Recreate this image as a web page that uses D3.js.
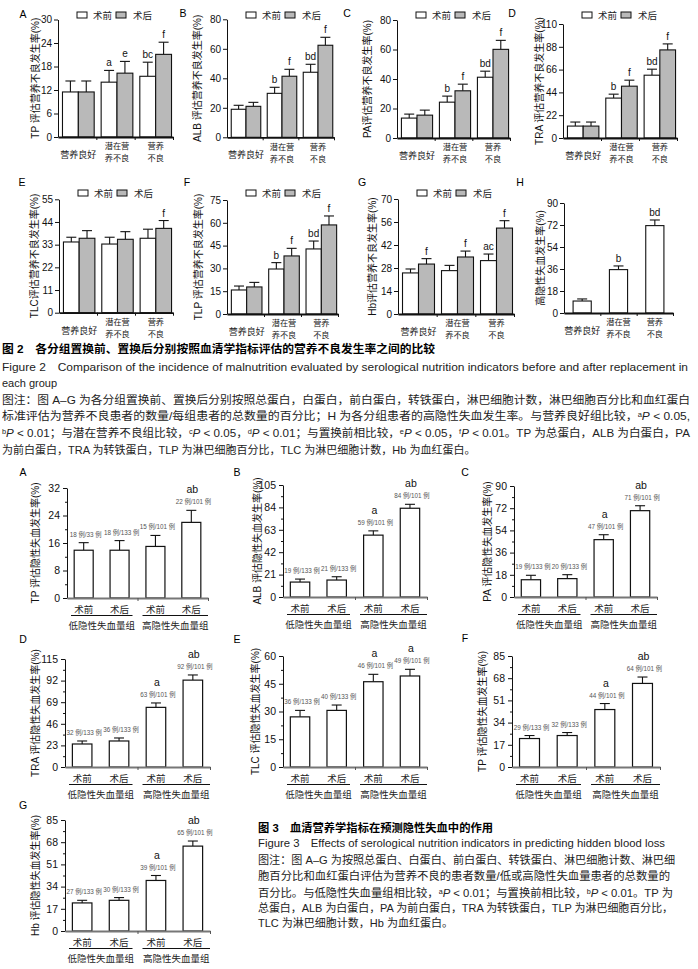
<!DOCTYPE html>
<html><head><meta charset="utf-8">
<script src="https://cdn.jsdelivr.net/npm/d3@7/dist/d3.min.js"></script>
<style>body{margin:0;background:#fff}svg{display:block}</style>
</head><body>
<svg id="c" width="698" height="969"></svg>
<script>
// ================= FIGURE 2 DATA =================
const fig2Groups = [["营养良好"], ["潜在营", "养不良"], ["营养", "不良"]];
const fig2Legend = ["术前", "术后"];

const tpTicks = [0, 6, 12, 18, 24, 30];
const tpPre = [11.5, 14.0, 15.5];
const tpPreErr = [14.3, 17.0, 19.1];
const tpPost = [11.5, 16.3, 21.1];
const tpPostErr = [14.3, 19.3, 24.2];
const tpPreSig = ["", "a", "bc"];
const tpPostSig = ["", "e", "f"];

const albTicks = [0, 20, 40, 60, 80];
const albPre = [19.0, 29.8, 44.1];
const albPreErr = [21.7, 33.9, 49.5];
const albPost = [21.0, 41.4, 62.4];
const albPostErr = [23.7, 46.1, 67.8];
const albPreSig = ["", "b", "bd"];
const albPostSig = ["", "f", "f"];

const paTicks = [0, 20, 40, 60, 80];
const paPre = [13.5, 24.3, 41.2];
const paPreErr = [16.2, 28.4, 45.3];
const paPost = [15.5, 32.0, 60.1];
const paPostErr = [18.9, 36.5, 66.2];
const paPreSig = ["", "b", "bd"];
const paPostSig = ["", "f", "f"];

const traTicks = [0, 22, 44, 66, 88, 110];
const traPre = [11.5, 38.5, 60.6];
const traPreErr = [15.4, 42.3, 66.4];
const traPost = [11.5, 50.0, 85.0];
const traPostErr = [15.4, 55.8, 90.8];
const traPreSig = ["", "b", "bd"];
const traPostSig = ["", "f", "f"];

const tlcTicks = [0, 11, 22, 33, 44, 55];
const tlcPre = [34.3, 33.3, 36.1];
const tlcPreErr = [36.6, 36.6, 40.5];
const tlcPost = [36.1, 35.6, 40.9];
const tlcPostErr = [39.8, 39.3, 44.7];
const tlcPreSig = ["", "", ""];
const tlcPostSig = ["", "", "f"];

const tlpTicks = [0, 15, 30, 45, 60, 75];
const tlpPre = [15.8, 29.6, 42.8];
const tlpPreErr = [18.4, 33.8, 48.0];
const tlpPost = [17.8, 38.2, 58.6];
const tlpPostErr = [20.8, 43.2, 64.5];
const tlpPreSig = ["", "b", "bd"];
const tlpPostSig = ["", "f", "f"];

const hbTicks = [0, 14, 28, 42, 56, 70];
const hbPre = [25.0, 26.4, 32.5];
const hbPreErr = [27.4, 29.6, 36.5];
const hbPost = [30.4, 34.7, 52.3];
const hbPostErr = [33.7, 38.3, 56.8];
const hbPreSig = ["", "", "ac"];
const hbPostSig = ["f", "f", "f"];

const hblTicks = [0, 18, 36, 54, 72, 90];
const hblRate = [9.8, 35.5, 71.5];
const hblRateErr = [11.5, 38.5, 76.1];
const hblSig = ["", "b", "bd"];

// ================= FIGURE 3 DATA =================
const fig3Bars = ["术前", "术后", "术前", "术后"];
const fig3Groups = ["低隐性失血量组", "高隐性失血量组"];

const f3tpTicks = [0, 8, 16, 24, 32];
const f3tpRate = [13.9, 13.9, 15.0, 22.0];
const f3tpErr = [16.1, 16.7, 18.2, 25.5];
const f3tpCount = ["18 例/33 例", "18 例/133 例", "15 例/101 例", "22 例/101 例"];
const f3tpSig = ["", "", "", "ab"];

const f3albTicks = [0, 21, 42, 63, 84, 105];
const f3albRate = [14.0, 15.9, 58.0, 83.2];
const f3albErr = [16.8, 19.0, 62.0, 86.9];
const f3albCount = ["19 例/133 例", "21 例/133 例", "59 例/101 例", "84 例/101 例"];
const f3albSig = ["", "", "a", "ab"];

const f3paTicks = [0, 18, 36, 54, 72, 90];
const f3paRate = [14.0, 14.9, 46.5, 70.0];
const f3paErr = [17.6, 18.1, 50.5, 74.0];
const f3paCount = ["19 例/133 例", "20 例/133 例", "47 例/101 例", "71 例/101 例"];
const f3paSig = ["", "", "a", "ab"];

const f3traTicks = [0, 23, 46, 69, 92, 115];
const f3traRate = [24.5, 27.7, 63.5, 92.5];
const f3traErr = [27.7, 30.9, 68.2, 98.0];
const f3traCount = ["32 例/133 例", "36 例/133 例", "63 例/101 例", "92 例/101 例"];
const f3traSig = ["", "", "a", "ab"];

const f3tlcTicks = [0, 15, 30, 45, 60];
const f3tlcRate = [27.1, 30.6, 46.1, 49.2];
const f3tlcErr = [30.6, 33.5, 50.1, 52.8];
const f3tlcCount = ["36 例/133 例", "40 例/133 例", "46 例/101 例", "49 例/101 例"];
const f3tlcSig = ["", "", "a", "a"];

const f3tlpTicks = [0, 17, 34, 51, 68, 85];
const f3tlpRate = [21.8, 24.1, 44.0, 64.0];
const f3tlpErr = [24.1, 26.4, 48.6, 68.9];
const f3tlpCount = ["29 例/133 例", "32 例/133 例", "44 例/101 例", "64 例/101 例"];
const f3tlpSig = ["", "", "a", "ab"];

const f3hbTicks = [0, 17, 34, 51, 68, 85];
const f3hbRate = [21.5, 23.5, 38.7, 65.0];
const f3hbErr = [23.5, 25.6, 42.5, 68.9];
const f3hbCount = ["27 例/133 例", "30 例/133 例", "39 例/101 例", "65 例/101 例"];
const f3hbSig = ["", "", "a", "ab"];

// ================= LAYOUT / STYLE =================
const LAT = "'Liberation Sans', Arial, 'Noto Sans CJK SC', sans-serif";
const CJK = "'Noto Sans CJK SC', sans-serif";
const GRAY = "#b9b9b9";
const svg = d3.select("#c");

const fig2Panels = [
  {L:"A", lx:23, ly:14, x0:58, x1:173, y0:19.5, y1:137, tx:35, legY:15, title:"TP 评估营养不良发生率(%)", ticks:tpTicks, pre:tpPre, preE:tpPreErr, post:tpPost, postE:tpPostErr, preS:tpPreSig, postS:tpPostSig},
  {L:"B", lx:183, ly:13, x0:227, x1:334, y0:19.3, y1:137.3, tx:197, legY:15, title:"ALB 评估营养不良发生率(%)", ticks:albTicks, pre:albPre, preE:albPreErr, post:albPost, postE:albPostErr, preS:albPreSig, postS:albPostSig},
  {L:"C", lx:347, ly:13, x0:397, x1:510, y0:20, y1:138, tx:367, legY:15, title:"PA评估营养不良发生率(%)", ticks:paTicks, pre:paPre, preE:paPreErr, post:paPost, postE:paPostErr, preS:paPreSig, postS:paPostSig},
  {L:"D", lx:512, ly:13, x0:563, x1:677, y0:24, y1:138, tx:539, legY:15, title:"TRA 评估营养不良发生率(%)", ticks:traTicks, pre:traPre, preE:traPreErr, post:traPost, postE:traPostErr, preS:traPreSig, postS:traPostSig},
  {L:"E", lx:22, ly:182, x0:59, x1:173, y0:199.3, y1:312.7, tx:34, legY:193, title:"TLC评估营养不良发生率(%)", ticks:tlcTicks, pre:tlcPre, preE:tlcPreErr, post:tlcPost, postE:tlcPostErr, preS:tlcPreSig, postS:tlcPostSig},
  {L:"F", lx:187, ly:182, x0:227, x1:338, y0:200, y1:314, tx:198, legY:193, title:"TLP 评估营养不良发生率(%)", ticks:tlpTicks, pre:tlpPre, preE:tlpPreErr, post:tlpPost, postE:tlpPostErr, preS:tlpPreSig, postS:tlpPostSig},
  {L:"G", lx:362, ly:182, x0:398, x1:514, y0:199, y1:314, tx:372, legY:193, title:"Hb评估营养不良发生率(%)", ticks:hbTicks, pre:hbPre, preE:hbPreErr, post:hbPost, postE:hbPostErr, preS:hbPreSig, postS:hbPostSig},
  {L:"H", lx:520, ly:182, x0:564, x1:673, y0:203, y1:313, tx:540, legY:null, title:"高隐性失血发生率(%)", ticks:hblTicks, pre:hblRate, preE:hblRateErr, post:null, preS:hblSig}
];

function panelLetter(t, x, y) {
  svg.append("text").attr("x", x).attr("y", y + 4).attr("text-anchor", "middle")
    .attr("font-family", LAT).attr("font-size", 10.5).text(t);
}
function yTitle(t, x, yc, fs) {
  svg.append("text").attr("transform", `translate(${x},${yc}) rotate(-90)`)
    .attr("text-anchor", "middle").attr("dominant-baseline", "central")
    .attr("font-family", LAT).attr("font-size", fs).attr("fill", "#111").text(t);
}
function styleAxis(g, fs) {
  g.selectAll("text").attr("font-family", LAT).attr("font-size", fs).attr("fill", "#111");
  g.selectAll("line").attr("stroke", "#111");
  g.select(".domain").attr("stroke", "#111");
}

function drawFig2(p) {
  const g = svg.append("g");
  const yMax = p.ticks[p.ticks.length - 1];
  const y = d3.scaleLinear().domain([0, yMax]).range([p.y1, p.y0]);
  const two = !!p.post;
  const x = d3.scaleBand().domain([0, 1, 2])
    .range(two ? [p.x0 + 1, p.x1 + 2] : [p.x0, p.x1])
    .paddingInner(two ? 0.18 : 0.5).paddingOuter(two ? 0.09 : 0.25);
  const series = two ? ["pre", "post"] : ["pre"];
  const xs = d3.scaleBand().domain(series).range([0, x.bandwidth()]);
  const rows = [];
  [0, 1, 2].forEach(i => {
    rows.push({g: i, s: "pre", v: p.pre[i], e: p.preE[i], sig: p.preS[i]});
    if (two) rows.push({g: i, s: "post", v: p.post[i], e: p.postE[i], sig: p.postS[i]});
  });
  const cx = d => x(d.g) + xs(d.s) + xs.bandwidth() / 2;
  g.selectAll(".eb").data(rows).join("line")
    .attr("x1", cx).attr("x2", cx).attr("y1", d => y(d.v)).attr("y2", d => y(d.e))
    .attr("stroke", "#111").attr("stroke-width", 1.1);
  g.selectAll(".cap").data(rows).join("line")
    .attr("x1", d => cx(d) - 5).attr("x2", d => cx(d) + 5).attr("y1", d => y(d.e)).attr("y2", d => y(d.e))
    .attr("stroke", "#111").attr("stroke-width", 1.1);
  g.selectAll(".bar").data(rows).join("rect")
    .attr("x", d => x(d.g) + xs(d.s)).attr("width", xs.bandwidth())
    .attr("y", d => y(d.v)).attr("height", d => y(0) - y(d.v))
    .attr("fill", d => d.s === "pre" ? "#fff" : GRAY)
    .attr("stroke", "#111").attr("stroke-width", 1.1);
  g.selectAll(".sig").data(rows.filter(d => d.sig)).join("text")
    .attr("x", cx).attr("y", d => y(d.e) - 4).attr("text-anchor", "middle")
    .attr("font-family", LAT).attr("font-size", 10).attr("fill", "#111").text(d => d.sig);
  const ya = g.append("g").attr("transform", `translate(${p.x0},0)`)
    .call(d3.axisLeft(y).tickValues(p.ticks).tickSize(4).tickSizeOuter(0).tickPadding(2));
  styleAxis(ya, 10);
  const xt = d3.scaleLinear().domain([0, 3]).range([p.x0, p.x1]);
  const xa = g.append("g").attr("transform", `translate(0,${p.y1})`)
    .call(d3.axisBottom(xt).tickValues([1, 2, 3]).tickSize(3).tickSizeOuter(0).tickFormat(""));
  styleAxis(xa, 10);
  xa.select(".domain").attr("stroke-width", 1.8);
  fig2Groups.forEach((lines, i) => {
    const xc = x(i) + x.bandwidth() / 2;
    lines.forEach((s, k) => {
      const single = lines.length === 1;
      const yy = single ? p.y1 + 21 : p.y1 + 12.3 + k * 12;
      g.append("text").attr("x", xc).attr("y", yy).attr("text-anchor", "middle")
        .attr("font-family", CJK).attr("font-size", single ? 9 : 8.2).attr("fill", "#222").text(s);
    });
  });
  if (p.legY !== null) {
    const lg = g.append("g");
    lg.append("rect").attr("x", p.x0 + 19).attr("y", p.legY - 3).attr("width", 10).attr("height", 6)
      .attr("fill", "#fff").attr("stroke", "#111").attr("stroke-width", 1);
    lg.append("text").attr("x", p.x0 + 35).attr("y", p.legY + 3.5).attr("font-family", CJK)
      .attr("font-size", 9.5).attr("fill", "#222").text(fig2Legend[0]);
    lg.append("rect").attr("x", p.x0 + 58).attr("y", p.legY - 3).attr("width", 10).attr("height", 6)
      .attr("fill", GRAY).attr("stroke", "#111").attr("stroke-width", 1);
    lg.append("text").attr("x", p.x0 + 75).attr("y", p.legY + 3.5).attr("font-family", CJK)
      .attr("font-size", 9.5).attr("fill", "#222").text(fig2Legend[1]);
  }
  panelLetter(p.L, p.lx, p.ly);
  yTitle(p.title, p.tx, (p.y0 + p.y1) / 2, 10);
}
fig2Panels.forEach(drawFig2);

const fig3Panels = [
  {L:"A", lx:23, ly:472, x0:67, x1:208, y0:488, y1:598, tx:35, title:"TP 评估隐性失血发生率(%)", ticks:f3tpTicks, v:f3tpRate, e:f3tpErr, c:f3tpCount, s:f3tpSig},
  {L:"B", lx:237, ly:472, x0:283, x1:427, y0:485, y1:597, tx:257, title:"ALB 评估隐性失血发生率(%)", ticks:f3albTicks, v:f3albRate, e:f3albErr, c:f3albCount, s:f3albSig},
  {L:"C", lx:465, ly:472, x0:514, x1:657, y0:486, y1:597, tx:487, title:"PA 评估隐性失血发生率(%)", ticks:f3paTicks, v:f3paRate, e:f3paErr, c:f3paCount, s:f3paSig},
  {L:"D", lx:23, ly:639, x0:65, x1:210, y0:659, y1:767, tx:35, title:"TRA 评估隐性失血发生率(%)", ticks:f3traTicks, v:f3traRate, e:f3traErr, c:f3traCount, s:f3traSig},
  {L:"E", lx:237, ly:639, x0:283, x1:427, y0:656, y1:767, tx:255, title:"TLC 评估隐性失血发生率(%)", ticks:f3tlcTicks, v:f3tlcRate, e:f3tlcErr, c:f3tlcCount, s:f3tlcSig},
  {L:"F", lx:465, ly:638, x0:512, x1:660, y0:656, y1:767, tx:482, title:"TP 评估隐性失血发生率(%)", ticks:f3tlpTicks, v:f3tlpRate, e:f3tlpErr, c:f3tlpCount, s:f3tlpSig},
  {L:"G", lx:23, ly:805, x0:65, x1:210, y0:820, y1:931, tx:35, title:"Hb 评估隐性失血发生率(%)", ticks:f3hbTicks, v:f3hbRate, e:f3hbErr, c:f3hbCount, s:f3hbSig}
];

function drawFig3(p) {
  const g = svg.append("g");
  const yMax = p.ticks[p.ticks.length - 1];
  const y = d3.scaleLinear().domain([0, yMax]).range([p.y1, p.y0]);
  const x = d3.scaleBand().domain([0, 1, 2, 3]).range([p.x0, p.x1]).paddingInner(0.47).paddingOuter(0.2);
  const rows = [0, 1, 2, 3].map(i => ({i, v: p.v[i], e: p.e[i], c: p.c[i], s: p.s[i]}));
  const cx = d => x(d.i) + x.bandwidth() / 2;
  g.selectAll(".eb").data(rows).join("line")
    .attr("x1", cx).attr("x2", cx).attr("y1", d => y(d.v)).attr("y2", d => y(d.e))
    .attr("stroke", "#111").attr("stroke-width", 1.1);
  g.selectAll(".cap").data(rows).join("line")
    .attr("x1", d => cx(d) - 5).attr("x2", d => cx(d) + 5).attr("y1", d => y(d.e)).attr("y2", d => y(d.e))
    .attr("stroke", "#111").attr("stroke-width", 1.1);
  g.selectAll(".bar").data(rows).join("rect")
    .attr("x", d => x(d.i)).attr("width", x.bandwidth())
    .attr("y", d => y(d.v)).attr("height", d => y(0) - y(d.v))
    .attr("fill", "#fff").attr("stroke", "#111").attr("stroke-width", 1.2);
  g.selectAll(".cnt").data(rows).join("text")
    .attr("x", d => cx(d) + 2).attr("y", d => y(d.e) - 6).attr("text-anchor", "middle")
    .attr("font-family", LAT).attr("font-size", 6.3).attr("fill", "#555").text(d => d.c);
  g.selectAll(".sig").data(rows.filter(d => d.s)).join("text")
    .attr("x", d => cx(d) + 1).attr("y", d => y(d.e) - 17).attr("text-anchor", "middle")
    .attr("font-family", LAT).attr("font-size", 10.5).attr("fill", "#111").text(d => d.s);
  const step = p.ticks[1] - p.ticks[0];
  const minor = p.ticks.slice(0, -1).map(t => t + step / 2);
  const ym = g.append("g").attr("transform", `translate(${p.x0},0)`)
    .call(d3.axisLeft(y).tickValues(minor).tickSize(2).tickFormat(""));
  styleAxis(ym, 10);
  ym.select(".domain").remove();
  const ya = g.append("g").attr("transform", `translate(${p.x0},0)`)
    .call(d3.axisLeft(y).tickValues(p.ticks).tickSize(4).tickSizeOuter(0).tickPadding(3));
  styleAxis(ya, 10.5);
  const xt = d3.scaleLinear().domain([0, 4]).range([p.x0, p.x1]);
  const xa = g.append("g").attr("transform", `translate(0,${p.y1})`)
    .call(d3.axisBottom(xt).tickValues([2, 4]).tickSize(3).tickSizeOuter(0).tickFormat(""));
  styleAxis(xa, 10);
  xa.select(".domain").attr("stroke", "#777").attr("stroke-width", 1.8);
  xa.selectAll("line").attr("stroke", "#555");
  rows.forEach(d => {
    g.append("text").attr("x", cx(d)).attr("y", p.y1 + 15).attr("text-anchor", "middle")
      .attr("font-family", CJK).attr("font-size", 9.5).attr("fill", "#222").text(fig3Bars[d.i]);
  });
  const mid = xt(2);
  const spans = [[p.x0 + 4, mid - 5], [mid + 5, p.x1]];
  spans.forEach((sp, k) => {
    g.append("line").attr("x1", sp[0]).attr("x2", sp[1]).attr("y1", p.y1 + 17.5).attr("y2", p.y1 + 17.5)
      .attr("stroke", "#111").attr("stroke-width", 1);
    g.append("text").attr("x", (sp[0] + sp[1]) / 2).attr("y", p.y1 + 30.5).attr("text-anchor", "middle")
      .attr("font-family", CJK).attr("font-size", 9.5).attr("fill", "#222").text(fig3Groups[k]);
  });
  panelLetter(p.L, p.lx, p.ly);
  yTitle(p.title, p.tx, (p.y0 + p.y1) / 2, 10);
}
fig3Panels.forEach(drawFig3);

// ================= CAPTIONS =================
function caption(x, lines) {
  lines.forEach(l => {
    const t = svg.append("text").attr("x", x).attr("y", l.y)
      .attr("font-family", LAT).attr("font-size", 11)
      .attr("fill", l.bold ? "#000" : "#222")
      .attr("font-weight", l.bold ? "bold" : null);
    if (l.w) t.attr("textLength", l.w).attr("lengthAdjust", "spacingAndGlyphs");
    l.segs.forEach(s => {
      const ts = t.append("tspan").text(s[0]);
      if (s[1] === "sup") ts.attr("font-size", 7).attr("baseline-shift", "super");
      if (s[1] === "i") ts.attr("font-style", "italic");
    });
  });
}
caption(2, [
  {y:353, w:433, bold:true, segs:[["图 2　各分组置换前、置换后分别按照血清学指标评估的营养不良发生率之间的比较"]]},
  {y:371, w:686, segs:[["Figure 2　Comparison of the incidence of malnutrition evaluated by serological nutrition indicators before and after replacement in"]]},
  {y:387, segs:[["each group"]]},
  {y:404, w:688, segs:[["图注：图 A–G 为各分组置换前、置换后分别按照总蛋白，白蛋白，前白蛋白，转铁蛋白，淋巴细胞计数，淋巴细胞百分比和血红蛋白"]]},
  {y:420, w:688, segs:[["标准评估为营养不良患者的数量/每组患者的总数量的百分比；H 为各分组患者的高隐性失血发生率。与营养良好组比较，"], ["a","sup"], ["P","i"], [" < 0.05,"]]},
  {y:437, w:688, segs:[["b","sup"], ["P","i"], [" < 0.01；与潜在营养不良组比较，"], ["c","sup"], ["P","i"], [" < 0.05，"], ["d","sup"], ["P","i"], [" < 0.01；与置换前相比较，"], ["e","sup"], ["P","i"], [" < 0.05，"], ["f","sup"], ["P","i"], [" < 0.01。TP 为总蛋白，ALB 为白蛋白，PA"]]},
  {y:454, segs:[["为前白蛋白，TRA 为转铁蛋白，TLP 为淋巴细胞百分比，TLC 为淋巴细胞计数，Hb 为血红蛋白。"]]}
]);
caption(258, [
  {y:832, w:235, bold:true, segs:[["图 3　血清营养学指标在预测隐性失血中的作用"]]},
  {y:847, w:407, segs:[["Figure 3　Effects of serological nutrition indicators in predicting hidden blood loss"]]},
  {y:864, w:417, segs:[["图注：图 A–G 为按照总蛋白、白蛋白、前白蛋白、转铁蛋白、淋巴细胞计数、淋巴细"]]},
  {y:880, w:412, segs:[["胞百分比和血红蛋白评估为营养不良的患者数量/低或高隐性失血量患者的总数量的"]]},
  {y:897, w:415, segs:[["百分比。与低隐性失血量组相比较，"], ["a","sup"], ["P","i"], [" < 0.01；与置换前相比较，"], ["b","sup"], ["P","i"], [" < 0.01。TP 为"]]},
  {y:912, w:415, segs:[["总蛋白，ALB 为白蛋白，PA 为前白蛋白，TRA 为转铁蛋白，TLP 为淋巴细胞百分比，"]]},
  {y:927, segs:[["TLC 为淋巴细胞计数，Hb 为血红蛋白。"]]}
]);
</script>
</body></html>
